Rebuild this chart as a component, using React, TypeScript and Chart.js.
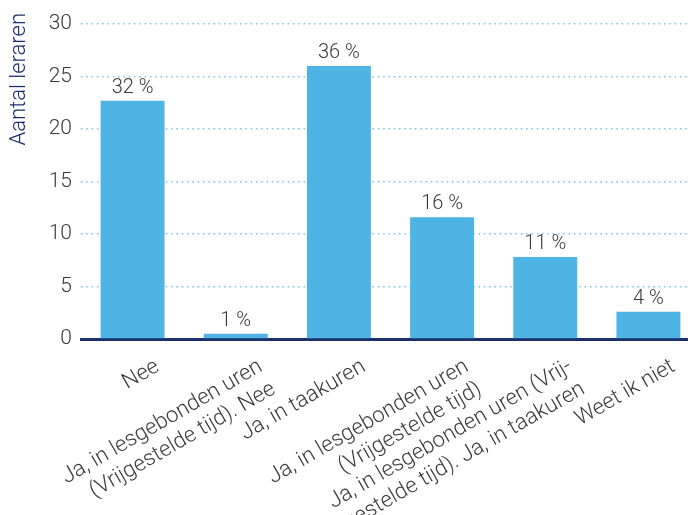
import React, { useEffect, useRef } from "react";
import { Chart, registerables } from "chart.js";

Chart.register(...registerables);

const categories: string[][] = [
  ["Nee"],
  ["Ja, in lesgebonden uren", "(Vrijgestelde tijd). Nee"],
  ["Ja, in taakuren"],
  ["Ja, in lesgebonden uren", "(Vrijgestelde tijd)"],
  ["Ja, in lesgebonden uren (Vrij-", "gestelde tijd). Ja, in taakuren"],
  ["Weet ik niet"],
];
const values: number[] = [22.7, 0.5, 26.0, 11.6, 7.8, 2.6];
const percentLabels: string[] = ["32%", "1%", "36%", "16%", "11%", "4%"];
const yTitle = "Aantal leraren";

const FONT = "Roboto, 'Liberation Sans', Arial, sans-serif";
const TEXT = "#3a3a3a";
const NAVY = "#1b2f6e";
const BAR = "#4eb4e3";

const percentPlugin = {
  id: "percentLabels",
  afterDatasetsDraw(chart: any) {
    const ctx = chart.ctx;
    const meta = chart.getDatasetMeta(0);
    ctx.save();
    ctx.font = `300 20px ${FONT}`;
    ctx.fillStyle = TEXT;
    ctx.textAlign = "center";
    ctx.textBaseline = "alphabetic";
    meta.data.forEach((bar: any, i: number) => {
      ctx.fillText(percentLabels[i].replace("%", " %"), bar.x, bar.y - 8);
    });
    ctx.restore();
  },
};

const titlePlugin = {
  id: "yTitle",
  afterDraw(chart: any) {
    const ctx = chart.ctx;
    ctx.save();
    ctx.translate(19, 13);
    ctx.rotate(-Math.PI / 2);
    ctx.font = `300 22px ${FONT}`;
    ctx.fillStyle = NAVY;
    ctx.textAlign = "right";
    ctx.textBaseline = "middle";
    ctx.fillText(yTitle, 0, 0);
    ctx.restore();
  },
};

export default function App() {
  const ref = useRef<HTMLCanvasElement>(null);
  useEffect(() => {
    if (!ref.current) return;
    const chart = new Chart(ref.current, {
      type: "bar",
      data: {
        labels: categories,
        datasets: [
          {
            data: values,
            backgroundColor: BAR,
            borderWidth: 0,
            barPercentage: 0.62,
            categoryPercentage: 1,
          },
        ],
      },
      options: {
        animation: false,
        responsive: false,
        layout: { padding: { top: 24, left: 0, right: 0, bottom: 0 } },
        plugins: {
          legend: { display: false },
          tooltip: { enabled: false },
        },
        scales: {
          x: {
            grid: { display: false, drawTicks: false },
            border: { display: true, color: NAVY, width: 3 },
            ticks: {
              autoSkip: false,
              minRotation: 30,
              maxRotation: 30,
              labelOffset: 25,
              padding: 15,
              color: TEXT,
              font: { family: FONT, size: 22, weight: "300" as any, lineHeight: "26px" },
            },
            afterFit(scale: any) {
              scale.height = 176;
            },
          },
          y: {
            min: 0,
            max: 30,
            grid: {
              drawTicks: false,
              color: "#72c7ec",
              lineWidth: 1.5,
            },
            border: { display: false, dash: [1.5, 3.8] },
            ticks: {
              stepSize: 5,
              padding: 9,
              color: TEXT,
              font: { family: FONT, size: 21, weight: "300" as any },
            },
            afterFit(scale: any) {
              scale.width = 81;
            },
          },
        },
      },
      plugins: [percentPlugin, titlePlugin],
    });
    return () => chart.destroy();
  }, []);
  return (
    <div
      style={{
        position: "absolute",
        left: 0,
        top: 0,
        width: 688,
        height: 515,
        overflow: "hidden",
        background: "#fff",
      }}
    >
      <canvas ref={ref} width={700} height={515} style={{ display: "block" }} />
    </div>
  );
}
